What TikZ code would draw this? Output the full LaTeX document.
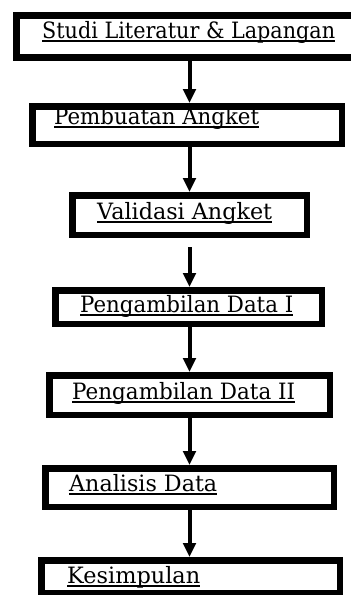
\documentclass[tikz,border=0pt]{standalone}
\usepackage{fontspec}
\setmainfont{DejaVu Serif}
\usepackage{graphicx}
\usetikzlibrary{arrows.meta}
\newsavebox\fitbox
\newlength\fitw
\newcommand\fitul[2]{%
  \sbox\fitbox{#2}%
  \fitw=\wd\fitbox
  \pgfmathsetmacro\fitr{#1/\the\fitw}%
  \rlap{\rule[-3.5pt]{#1pt}{1.5pt}}\scalebox{\fitr}[1]{\usebox\fitbox}}
\begin{document}
\begin{tikzpicture}[x=1pt,y=-1pt,
  box/.style={draw, line width=6.5pt, rectangle, inner sep=0pt},
  lbl/.style={anchor=base west, inner sep=0pt, font=\fontsize{22.5}{26}\selectfont},
  arr/.style={line width=4pt, -{Triangle[width=12.5pt,length=14pt]}}]
\useasboundingbox (0,0) rectangle (351,595);
\clip (0,0) rectangle (351,595);
% boxes
\node[box, minimum width=342.5pt, minimum height=42pt] (b1) at (187.5,36.25) {};
\node[box, minimum width=309.5pt, minimum height=37.5pt] (b2) at (187,125) {};
\node[box, minimum width=234.5pt, minimum height=39.5pt] (b3) at (189.5,215) {};
\node[box, minimum width=266.5pt, minimum height=33.5pt] (b4) at (188.5,307) {};
\node[box, minimum width=280.5pt, minimum height=39.5pt] (b5) at (189.5,395) {};
\node[box, minimum width=288.5pt, minimum height=38.5pt] (b6) at (189.5,487.5) {};
\node[box, minimum width=298.5pt, minimum height=32.5pt] (b7) at (190.5,576.5) {};
% labels
\node[lbl] (t1) at (42,38) {\fitul{293}{Studi Literatur \& Lapangan}};
\node[lbl] (t2) at (54,124) {\fitul{205}{Pembuatan Angket}};
\node[lbl] (t3) at (97,219) {\fitul{175}{Validasi Angket}};
\node[lbl] (t4) at (80,312) {\fitul{213}{Pengambilan Data I}};
\node[lbl] (t5) at (72,399) {\fitul{223}{Pengambilan Data II}};
\node[lbl] (t6) at (69,491) {\fitul{148}{Analisis Data}};
\node[lbl] (t7) at (67,583) {\fitul{133}{Kesimpulan}};
% arrows
\coordinate (ax) at (189.5,0);
\draw[arr] (b1.south -| ax) -- (b2.north -| ax);
\draw[arr] (b2.south -| ax) -- (b3.north -| ax);
\draw[arr, shorten <=9pt] (b3.south -| ax) -- (b4.north -| ax);
\draw[arr] (b4.south -| ax) -- (b5.north -| ax);
\draw[arr] (b5.south -| ax) -- (b6.north -| ax);
\draw[arr] (b6.south -| ax) -- (b7.north -| ax);
\end{tikzpicture}
\end{document}
